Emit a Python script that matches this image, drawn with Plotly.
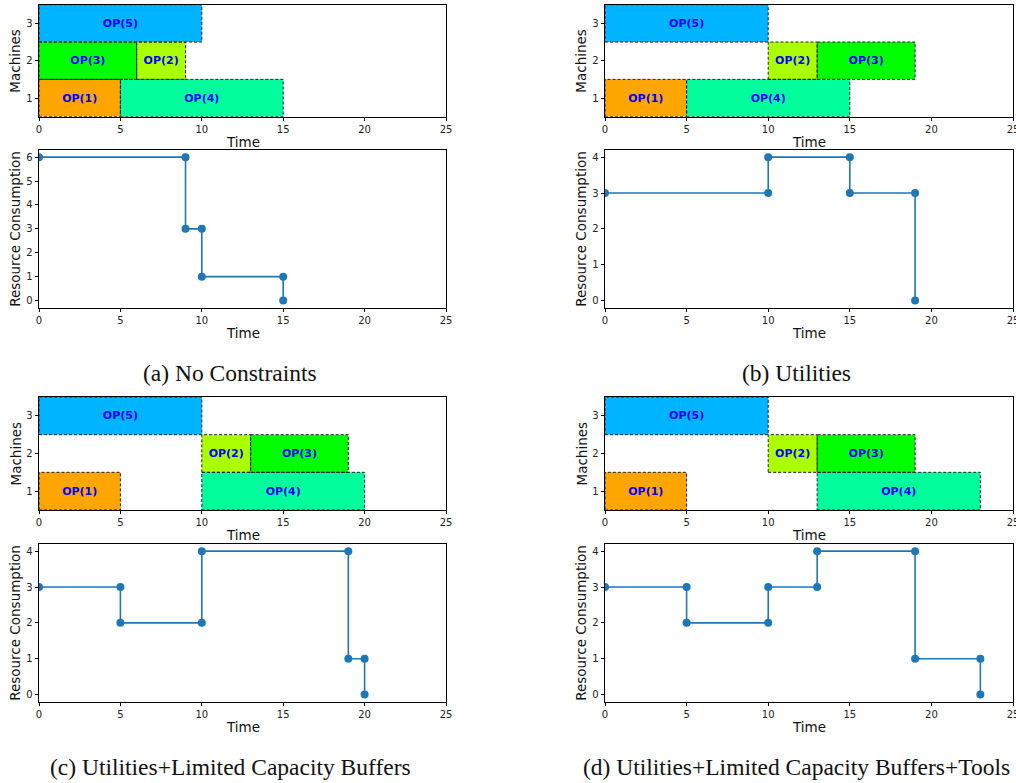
import plotly.graph_objects as go

W, H = 1016, 783

# ---------------- data ----------------
op_names = ["OP(1)", "OP(2)", "OP(3)", "OP(4)", "OP(5)"]
op_colors = ["#FFA500", "#AAFF00", "#00FF00", "#00FF9C", "#00B4FF"]
op_machines = [1, 2, 2, 1, 3]

# start times / durations per scenario (order OP1..OP5)
starts_a = [0, 6, 0, 5, 0]
durs_a = [5, 3, 6, 10, 10]
starts_b = [0, 10, 13, 5, 0]
durs_b = [5, 3, 6, 10, 10]
starts_c = [0, 10, 13, 10, 0]
durs_c = [5, 3, 6, 10, 10]
starts_d = [0, 10, 13, 13, 0]
durs_d = [5, 3, 6, 10, 10]

res_t_a = [0, 9, 9, 10, 10, 15, 15]
res_v_a = [6, 6, 3, 3, 1, 1, 0]
res_t_b = [0, 10, 10, 15, 15, 19, 19]
res_v_b = [3, 3, 4, 4, 3, 3, 0]
res_t_c = [0, 5, 5, 10, 10, 19, 19, 20, 20]
res_v_c = [3, 3, 2, 2, 4, 4, 1, 1, 0]
res_t_d = [0, 5, 5, 10, 10, 13, 13, 19, 19, 23, 23]
res_v_d = [3, 3, 2, 2, 3, 3, 4, 4, 1, 1, 0]

captions = ["(a) No Constraints", "(b) Utilities",
            "(c) Utilities+Limited Capacity Buffers",
            "(d) Utilities+Limited Capacity Buffers+Tools"]

time_ticks = [0, 5, 10, 15, 20, 25]
machine_ticks = [1, 2, 3]

# ---------------- layout geometry (pixels) ----------------
def px_x(p):
    return p / W

def px_y(p):
    return 1 - p / H

col_x = [(39, 446), (605, 1013)]
gantt_y = [(4.7, 116.7), (397, 510)]
step_y = [(150, 307.7), (544, 701.7)]
cap_x = [230, 796]
cap_y = [373, 767]
ylab_x = [15, 581]

panels = [
    (0, 0, starts_a, durs_a, res_t_a, res_v_a),
    (1, 0, starts_b, durs_b, res_t_b, res_v_b),
    (0, 1, starts_c, durs_c, res_t_c, res_v_c),
    (1, 1, starts_d, durs_d, res_t_d, res_v_d),
]

fig = go.Figure()
layout = {}
annotations = []

tick_font = dict(family="DejaVu Sans", size=10, color="#222222")
label_font = dict(family="DejaVu Sans", size=13.5, color="#111111")

axis_common = dict(
    showline=True, mirror=True, linecolor="black", linewidth=0.9,
    ticks="outside", ticklen=3.5, tickwidth=0.9, tickcolor="black",
    showgrid=False, zeroline=False, tickfont=tick_font, automargin=False,
    ticklabeloverflow="allow",
)

ax_idx = 0
for k, (col, row, starts, durs, rt, rv) in enumerate(panels):
    # ---- Gantt axes ----
    ax_idx += 1
    xa = f"x{ax_idx}"
    ya = f"y{ax_idx}"
    layout[f"xaxis{ax_idx}"] = dict(
        domain=[px_x(col_x[col][0]), px_x(col_x[col][1])],
        anchor=ya, range=[0, 25], tickvals=time_ticks, **axis_common)
    layout[f"yaxis{ax_idx}"] = dict(
        domain=[px_y(gantt_y[row][1]), px_y(gantt_y[row][0])],
        anchor=xa, range=[0.5, 3.5], tickvals=machine_ticks, **axis_common)
    for i in range(len(op_names)):
        fig.add_trace(go.Bar(
            orientation="h", y=[op_machines[i]], x=[durs[i]], base=[starts[i]],
            width=1, marker=dict(color=op_colors[i], line=dict(width=0)),
            text=[op_names[i]], textposition="inside", insidetextanchor="middle",
            textangle=0, constraintext="none",
            textfont=dict(family="DejaVu Sans", size=11, color="#0000FF", weight="bold"),
            xaxis=xa, yaxis=ya, showlegend=False, hoverinfo="skip"))
        s, e, m = starts[i], starts[i] + durs[i], op_machines[i]
        fig.add_trace(go.Scatter(
            x=[s, e, e, s, s], y=[m - 0.5, m - 0.5, m + 0.5, m + 0.5, m - 0.5],
            mode="lines", line=dict(color="#222222", width=1, dash="3px,2px"),
            xaxis=xa, yaxis=ya, showlegend=False, hoverinfo="skip"))
    annotations.append(dict(
        text="Time", x=(px_x(col_x[col][0]) + px_x(col_x[col][1])) / 2,
        y=px_y(gantt_y[row][1] + 25), xref="paper", yref="paper",
        showarrow=False, font=label_font, xanchor="center", yanchor="middle"))
    annotations.append(dict(
        text="Machines", x=px_x(ylab_x[col]),
        y=(px_y(gantt_y[row][0]) + px_y(gantt_y[row][1])) / 2,
        xref="paper", yref="paper", showarrow=False, font=label_font,
        textangle=-90, xanchor="center", yanchor="middle"))

    # ---- Resource step axes ----
    ax_idx += 1
    xa = f"x{ax_idx}"
    ya = f"y{ax_idx}"
    vmax = max(rv)
    layout[f"xaxis{ax_idx}"] = dict(
        domain=[px_x(col_x[col][0]), px_x(col_x[col][1])],
        anchor=ya, range=[0, 25], tickvals=time_ticks, **axis_common)
    layout[f"yaxis{ax_idx}"] = dict(
        domain=[px_y(step_y[row][1]), px_y(step_y[row][0])],
        anchor=xa, range=[-0.05 * vmax, 1.05 * vmax], dtick=1, **axis_common)
    fig.add_trace(go.Scatter(
        x=rt, y=rv, mode="lines+markers",
        line=dict(color="#1f77b4", width=1.6),
        marker=dict(color="#1f77b4", size=8),
        xaxis=xa, yaxis=ya, showlegend=False))
    annotations.append(dict(
        text="Time", x=(px_x(col_x[col][0]) + px_x(col_x[col][1])) / 2,
        y=px_y(step_y[row][1] + 25), xref="paper", yref="paper",
        showarrow=False, font=label_font, xanchor="center", yanchor="middle"))
    annotations.append(dict(
        text="Resource Consumption", x=px_x(ylab_x[col]),
        y=(px_y(step_y[row][0]) + px_y(step_y[row][1])) / 2,
        xref="paper", yref="paper", showarrow=False, font=label_font,
        textangle=-90, xanchor="center", yanchor="middle"))

    # ---- caption ----
    annotations.append(dict(
        text=captions[k], x=px_x(cap_x[col]), y=px_y(cap_y[row]),
        xref="paper", yref="paper", showarrow=False,
        font=dict(family="Liberation Serif", size=23.5, color="#111111"),
        xanchor="center", yanchor="middle"))

fig.update_layout(
    width=W, height=H, margin=dict(l=0, r=0, t=0, b=0, autoexpand=False),
    paper_bgcolor="white", plot_bgcolor="white",
    barmode="overlay", annotations=annotations, **layout)

fig.write_html("out.html", config={"displayModeBar": False},
               post_script="document.body.style.margin='0';document.body.style.overflow='hidden';")
